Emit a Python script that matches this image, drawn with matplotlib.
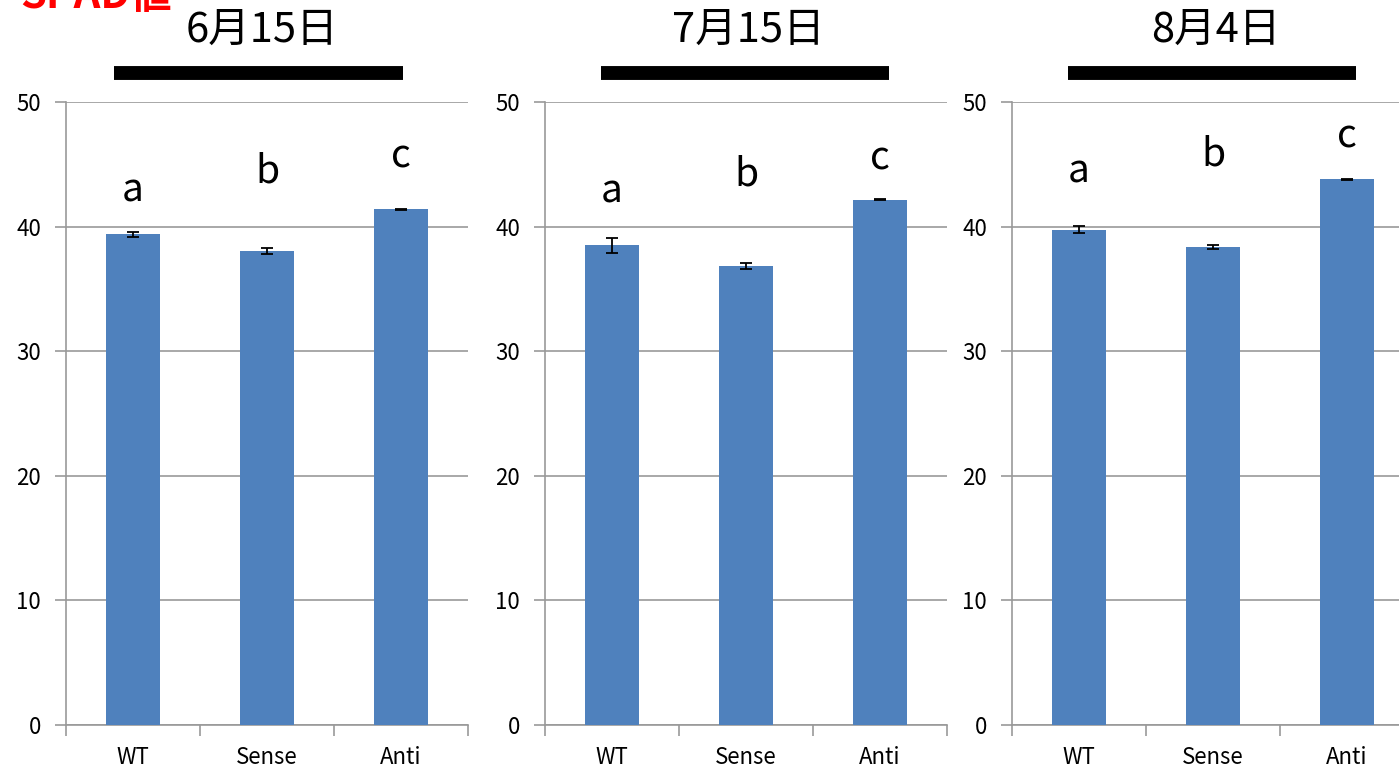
import matplotlib
matplotlib.use("Agg")
import matplotlib.pyplot as plt
import numpy as np

plt.rcParams['font.family'] = ['Noto Sans CJK JP', 'DejaVu Sans']

categories = ["WT", "Sense", "Anti"]
dates = ["6月15日", "7月15日", "8月4日"]
means = [
    [39.4, 38.05, 41.4],
    [38.5, 36.85, 42.15],
    [39.75, 38.35, 43.8],
]
errs = [
    [0.2, 0.25, 0.05],
    [0.6, 0.25, 0.05],
    [0.3, 0.15, 0.05],
]
letters = ["a", "b", "c"]
letter_y = [
    [42.9, 44.4, 45.6],
    [42.8, 44.2, 45.5],
    [44.4, 45.8, 47.2],
]

bar_color = "#4f81bd"
grid_color = "#999999"

fig = plt.figure(figsize=(13.99, 7.69), dpi=100)
lefts = [66, 545, 1012]
title_x = [0.488, 0.505, 0.508]
bar_span = [(0.119, 0.838), (0.139, 0.856), (0.139, 0.856)]

for i in range(3):
    ax = fig.add_axes([lefts[i] / 1399, 44 / 769, 402 / 1399, 623 / 769])
    x = np.arange(len(categories))
    ax.bar(x, means[i], width=0.4, color=bar_color, zorder=3)
    ax.errorbar(x, means[i], yerr=errs[i], fmt="none", ecolor="black",
                elinewidth=1.3, capsize=4, capthick=1.3, zorder=4)
    for j in range(3):
        ax.text(x[j], letter_y[i][j], letters[j], ha="center", va="center",
                fontsize=28, zorder=5)
    ax.set_xlim(-0.5, 2.5)
    ax.set_ylim(0, 50)
    ax.set_yticks([0, 10, 20, 30, 40, 50])
    ax.yaxis.grid(True, color=grid_color, linewidth=1.2, zorder=0)
    ax.set_axisbelow(True)
    ax.set_xticks([-0.5, 0.5, 1.5, 2.5])
    ax.set_xticklabels([])
    ax.set_xticks(x, minor=True)
    ax.set_xticklabels(categories, minor=True, fontsize=16)
    ax.tick_params(axis="x", which="major", length=8, color=grid_color, width=1.2)
    ax.tick_params(axis="x", which="minor", length=0, pad=15)
    ax.tick_params(axis="y", length=8, color=grid_color, width=1.2, labelsize=16, pad=10)
    for s in ["top", "right"]:
        ax.spines[s].set_visible(False)
    for s in ["left", "bottom"]:
        ax.spines[s].set_color(grid_color)
        ax.spines[s].set_linewidth(1.2)
    ax.plot(bar_span[i], [1.0465, 1.0465], color="black", linewidth=10,
            solid_capstyle="butt", transform=ax.transAxes, clip_on=False)
    ax.text(title_x[i], 1.1156, dates[i], ha="center", va="center",
            fontsize=30, transform=ax.transAxes)

fig.text(20 / 1399, 1.005, "SPAD値", color="red", fontsize=30, fontweight="bold",
         ha="left", va="center")

fig.savefig("out.png", dpi=100)
